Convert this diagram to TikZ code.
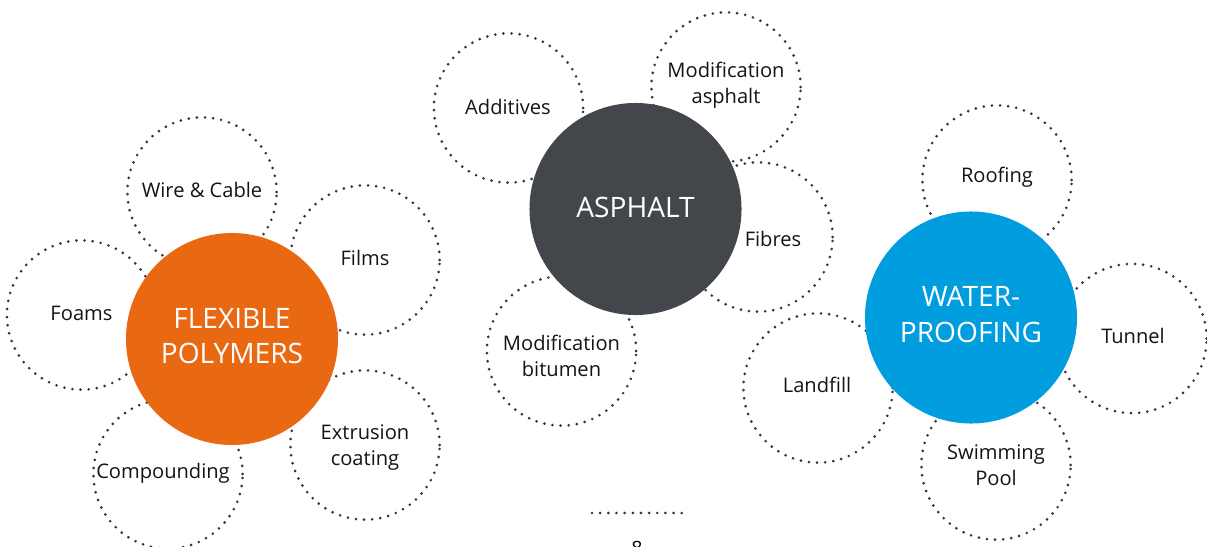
\documentclass[tikz,border=0pt]{standalone}
\usepackage{fontspec}
\setmainfont{Open Sans}
\definecolor{polyOrange}{RGB}{233,105,18}
\definecolor{asphaltGrey}{RGB}{67,71,76}
\definecolor{waterBlue}{RGB}{0,158,222}
\definecolor{dotInk}{RGB}{50,52,56}
\tikzset{
  petal/.style={circle,draw=dotInk,line width=2.1pt,line cap=round,
    dash pattern=on 0pt off 5.8pt,minimum size=3.73cm,inner sep=0pt},
  petaltext/.style={align=center,inner sep=0pt,text=black!92,
    font=\fontsize{14.3}{18.5}\selectfont},
  hub/.style={circle,minimum size=5.3cm,inner sep=0pt,text=white,align=center,
    font=\fontsize{20}{25}\selectfont}
}

\begin{document}
\begin{tikzpicture}[x=0.025cm,y=-0.025cm]
  \useasboundingbox (0,0) rectangle (1207,546);
  % dotted petals first, so the hubs sit on top of them
  \foreach \nm/\cx/\cy/\tx/\ty/\txt in {
      wire/202/192/202/190/Wire \& Cable,
      films/365/260/365/258/Films,
      foams/81.5/315/81.5/313/Foams,
      compound/168/474/163/473/Compounding,
      extrusion/365/445/365/447.5/Extrusion\\coating,
      additives/508.5/108/508/107/Additives,
      modasph/726/87/726/85.5/Modification\\asphalt,
      fibres/758/237/773/239/Fibres,
      modbit/561.5/351/561.5/355.5/Modification\\bitumen,
      roofing/997/180/997/177/Roofing,
      tunnel/1132/338.5/1133/336/Tunnel,
      landfill/818/388/817/385/Landfill,
      pool/996/465/996/465/Swimming\\Pool}{
    \node[petal] (\nm) at (\cx,\cy) {};
    \node[petaltext] (\nm-txt) at (\tx,\ty) {\txt};
  }
  \node[hub,fill=polyOrange] (flex) at (232,339) {};
  \node[hub,fill=asphaltGrey] (asphalt) at (635.5,209) {};
  \node[hub,fill=waterBlue] (water) at (971,317.5) {};
  \node[hub,minimum size=0pt] (flex-txt) at (232,336) {FLEXIBLE\\POLYMERS};
  \node[hub,minimum size=0pt] (asphalt-txt) at (635.5,207) {ASPHALT};
  \node[hub,minimum size=0pt] (water-txt) at (971,314.5) {WATER-\\PROOFING};
  % footer rule and page number
  \coordinate (rule-l) at (592,513);
  \coordinate (rule-r) at (683,513);
  \draw[dotInk,line width=2.1pt,line cap=round,dash pattern=on 0pt off 5.8pt] (rule-l) -- (rule-r);
  \node[anchor=north,inner sep=0pt,font=\fontsize{14}{16}\selectfont] (pageno) at (637,541) {8};
\end{tikzpicture}
\end{document}
